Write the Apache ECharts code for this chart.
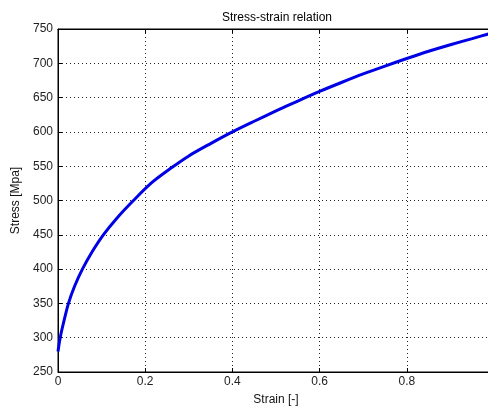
<!DOCTYPE html>
<html>
<head>
<meta charset="utf-8">
<script src="https://cdn.jsdelivr.net/npm/echarts@6/dist/echarts.min.js"></script>
<style>html,body{margin:0;padding:0;background:#fff}#c{width:488px;height:409px}</style>
</head>
<body>
<div id="c"></div>
<script>
const strain = [0, 0.005, 0.012, 0.024, 0.038, 0.056, 0.078, 0.104, 0.136, 0.173, 0.215, 0.261, 0.3, 0.35, 0.4, 0.45, 0.5, 0.55, 0.6, 0.65, 0.7, 0.75, 0.8, 0.85, 0.9, 0.95, 1.0];
const stress = [280, 300, 320, 350, 375, 400, 425, 450, 475, 500, 526, 548, 565, 583, 600, 615.5, 630.5, 645, 659, 672, 684.5, 696, 707, 717.5, 727, 736, 745];
const xTicks = {min: 0, max: 1, interval: 0.2};
const yTicks = {min: 250, max: 750, interval: 50};

const chart = echarts.init(document.getElementById('c'), null, {renderer: 'canvas'});
const font = 'Liberation Sans, Arial, sans-serif';
const grid = {left: 58, top: 29, width: 436, height: 343, show: true, borderColor: '#000', borderWidth: 1, backgroundColor: '#fff', outerBoundsMode: 'none', containLabel: false};
const split = {show: true, lineStyle: {color: '#222', type: [1, 3], width: 1}};
chart.setOption({
  animation: false,
  title: {text: 'Stress-strain relation', left: 217, top: 7, textStyle: {fontFamily: font, fontSize: 12, fontWeight: 'normal', color: '#000'}},
  grid: grid,
  xAxis: [{
    type: 'value', min: xTicks.min, max: xTicks.max, interval: xTicks.interval,
    name: 'Strain [-]', nameLocation: 'middle', nameGap: 22,
    nameTextStyle: {fontFamily: font, fontSize: 12, color: '#111'},
    axisLine: {show: true, lineStyle: {color: '#000'}},
    axisTick: {show: true, inside: true, length: 4, lineStyle: {color: '#000'}},
    axisLabel: {fontFamily: font, fontSize: 12, color: '#222', margin: 4},
    splitLine: split
  }, {
    type: 'value', position: 'top', min: xTicks.min, max: xTicks.max, interval: xTicks.interval,
    axisLine: {show: true, lineStyle: {color: '#000'}},
    axisTick: {show: true, inside: true, length: 4, lineStyle: {color: '#000'}},
    axisLabel: {show: false}, splitLine: {show: false}
  }],
  yAxis: {
    type: 'value', min: yTicks.min, max: yTicks.max, interval: yTicks.interval,
    name: 'Stress [Mpa]', nameLocation: 'middle', nameGap: 32,
    nameTextStyle: {fontFamily: font, fontSize: 12, color: '#111'},
    axisLine: {show: true, lineStyle: {color: '#000'}},
    axisTick: {show: true, inside: true, length: 4, lineStyle: {color: '#000'}},
    axisLabel: {fontFamily: font, fontSize: 12, color: '#222', margin: 5},
    splitLine: split
  },
  series: [{
    type: 'line', xAxisIndex: 0, data: strain.map((s, i) => [s, stress[i]]),
    smooth: 0.3, showSymbol: false, symbol: 'none',
    lineStyle: {color: '#0000e6', width: 3}
  }]
});
</script>
</body>
</html>
